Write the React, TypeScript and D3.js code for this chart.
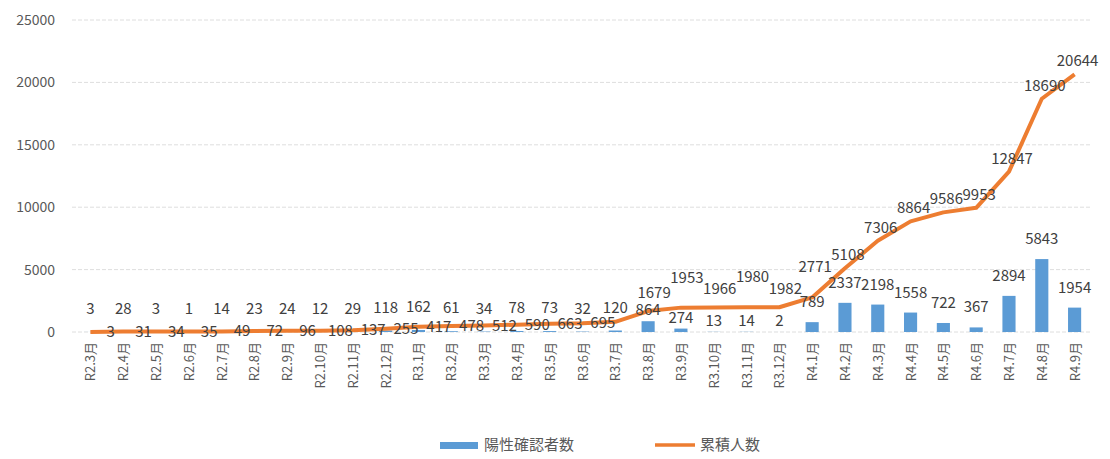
import React from 'react';
import * as d3 from 'd3';

// monthly data R2.3 - R4.9
const months = [
  'R2.3月', 'R2.4月', 'R2.5月', 'R2.6月', 'R2.7月', 'R2.8月', 'R2.9月', 'R2.10月', 'R2.11月', 'R2.12月',
  'R3.1月', 'R3.2月', 'R3.3月', 'R3.4月', 'R3.5月', 'R3.6月', 'R3.7月', 'R3.8月', 'R3.9月', 'R3.10月',
  'R3.11月', 'R3.12月', 'R4.1月', 'R4.2月', 'R4.3月', 'R4.4月', 'R4.5月', 'R4.6月', 'R4.7月', 'R4.8月', 'R4.9月',
];
const positives = [
  3, 28, 3, 1, 14, 23, 24, 12, 29, 118,
  162, 61, 34, 78, 73, 32, 120, 864, 274, 13,
  14, 2, 789, 2337, 2198, 1558, 722, 367, 2894, 5843, 1954,
];
const cumulative = [
  3, 31, 34, 35, 49, 72, 96, 108, 137, 255,
  417, 478, 512, 590, 663, 695, 815, 1679, 1953, 1966,
  1980, 1982, 2771, 5108, 7306, 8864, 9586, 9953, 12847, 18690, 20644,
];
const yTicks = [0, 5000, 10000, 15000, 20000, 25000];

const W = 1110;
const H = 459;
const FONT = '"Noto Sans CJK JP", "Noto Sans", sans-serif';
const BLUE = '#5b9bd5';
const ORANGE = '#ed7d31';
const TEXT = '#595959';

export default function App() {
  const x = d3.scaleBand<string>()
    .domain(months)
    .range([74, 1091])
    .paddingInner(0.6)
    .paddingOuter(0.3);
  const step = x.step();
  const cx = (m: string) => (x(m) ?? 0) + x.bandwidth() / 2;

  const y = d3.scaleLinear().domain([0, 25000]).range([332, 20]);

  const line = d3.line<number>()
    .x((_, i) => cx(months[i]))
    .y(d => y(d));

  // bar label offset above the bar top
  const barLabelGap = (i: number) => {
    if (i < 17) return 18;
    if (i <= 21) return 6;
    return 15;
  };

  return (
    <svg width={W} height={H} style={{ position: 'absolute', left: 0, top: 0, background: '#fff' }} fontFamily={FONT}>
      {/* grid + y axis */}
      {yTicks.map(t => (
        <g key={t}>
          <line x1={72} x2={1092} y1={y(t)} y2={y(t)} stroke="#dedede" strokeDasharray="4,2" strokeWidth={1} />
          <text x={55} y={y(t)} dy="0.35em" textAnchor="end" fontSize={14} fill={TEXT}>{t}</text>
        </g>
      ))}

      {/* bars */}
      {positives.map((v, i) => (
        <rect key={months[i]} x={x(months[i])} y={y(v)} width={x.bandwidth()} height={y(0) - y(v)} fill={BLUE} />
      ))}

      {/* cumulative line */}
      <path d={line(cumulative) ?? ''} fill="none" stroke={ORANGE} strokeWidth={4} strokeLinejoin="round" />

      {/* bar labels */}
      {positives.map((v, i) => (
        <text key={'b' + i} x={cx(months[i])} y={y(v) - barLabelGap(i)} textAnchor="middle" fontSize={15} fill="#404040">{v}</text>
      ))}

      {/* line labels: right of point while flat, staggered above once rising */}
      {cumulative.map((v, i) => {
        if (i === 16) return null;
        const px = cx(months[i]);
        const py = y(v);
        if (i < 16) {
          return <text key={'c' + i} x={px + step * 0.62} y={py + 5} textAnchor="middle" fontSize={15} fill="#404040">{v}</text>;
        }
        let up = 8;
        if (i <= 22) up = i % 2 === 0 ? 25 : 13;
        return <text key={'c' + i} x={px + (i <= 21 ? 6 : 3)} y={py - up} textAnchor="middle" fontSize={15} fill="#404040">{v}</text>;
      })}

      {/* x labels */}
      {months.map(m => (
        <text key={m} transform={`translate(${cx(m) + 5},342) rotate(-90)`} textAnchor="end" fontSize={13} fill={TEXT}>{m}</text>
      ))}

      {/* legend */}
      <rect x={440} y={442} width={38} height={7} fill={BLUE} />
      <text x={484} y={445} dy="0.35em" fontSize={15} fill={TEXT}>陽性確認者数</text>
      <line x1={655} x2={695} y1={445} y2={445} stroke={ORANGE} strokeWidth={3.5} />
      <text x={700} y={445} dy="0.35em" fontSize={15} fill={TEXT}>累積人数</text>
    </svg>
  );
}
